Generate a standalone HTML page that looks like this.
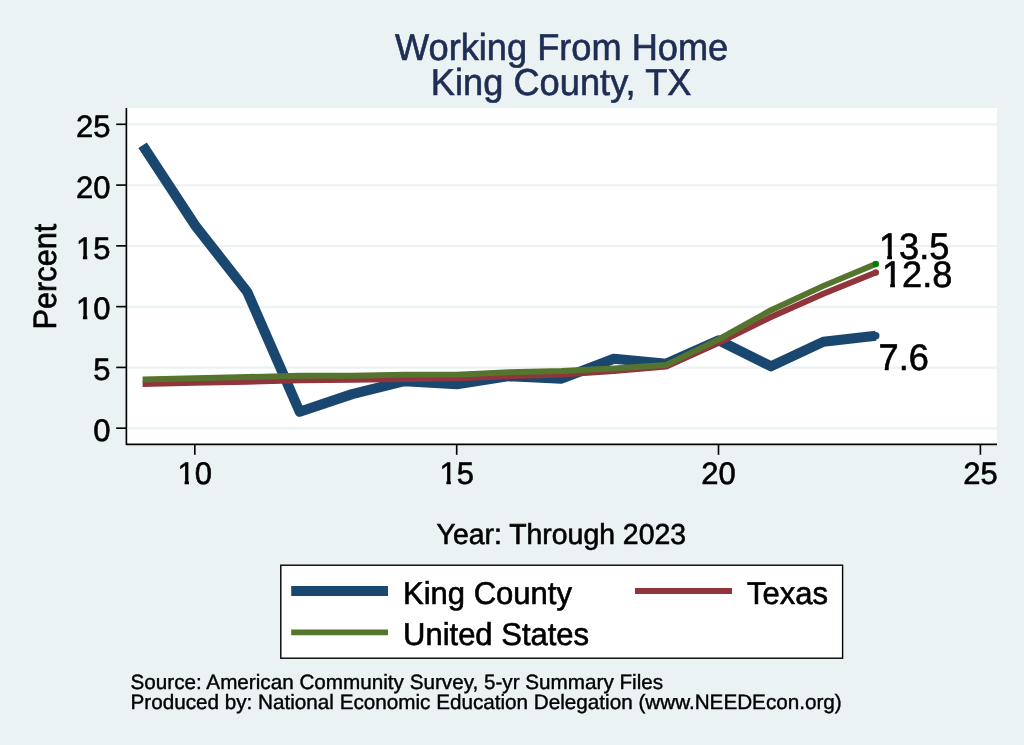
<!DOCTYPE html>
<html lang="en"><head><meta charset="utf-8"><title>Working From Home - King County, TX</title>
<style>
html,body{margin:0;padding:0;background:#EAF2F3;}
body{width:1024px;height:745px;overflow:hidden;}
svg{display:block;}
text{font-family:"Liberation Sans",sans-serif;text-rendering:geometricPrecision;fill:#000;stroke:#000;stroke-width:0.6px;}
.tk{font-size:31px;}
.ax{font-size:28.4px;}
.yt{font-size:30.7px;}
.ti{font-size:36.2px;fill:#1E2D53;stroke:#1E2D53;}
.lg{font-size:31px;}
.nt{font-size:20.68px;stroke-width:0.4px;}
.dl{font-size:36.2px;}
</style></head><body>
<svg width="1024" height="745" viewBox="0 0 1024 745">
<defs><clipPath id="one-tk"><polygon points="-3,-31.00 124.00,-31.00 124.00,9.30 16.73,9.30 16.73,-3.72 11.34,-3.72 11.34,9.30 7.00,9.30 7.00,-3.72 -3,-3.72"/></clipPath><clipPath id="one-dl"><polygon points="-3,-36.20 144.80,-36.20 144.80,10.86 19.37,10.86 19.37,-4.10 13.10,-4.10 13.10,10.86 8.30,10.86 8.30,-4.10 -3,-4.10"/></clipPath></defs>
<rect x="0" y="0" width="1024" height="745" fill="#EAF2F3"/>
<rect x="127" y="108" width="870" height="336" fill="#fff"/>

<g stroke="#EAF2F3" stroke-width="2.2">
<line x1="128.2" x2="997" y1="428.35" y2="428.35"/>
<line x1="128.2" x2="997" y1="367.57" y2="367.57"/>
<line x1="128.2" x2="997" y1="306.79" y2="306.79"/>
<line x1="128.2" x2="997" y1="246.01" y2="246.01"/>
<line x1="128.2" x2="997" y1="185.23" y2="185.23"/>
<line x1="128.2" x2="997" y1="124.45" y2="124.45"/>
</g>
<g fill="none" stroke-linejoin="round">
<polyline points="142.6,145.2 194.9,225.1 247.3,292.0 299.7,411.7 352.1,394.1 404.4,381.2 456.8,384.3 509.2,376.1 561.5,378.6 613.9,358.8 666.3,363.7 718.6,340.3 771.0,366.3 823.4,341.8 875.8,335.7" stroke="#1A476F" stroke-width="10.1"/>
<polyline points="142.6,384.0 194.9,382.9 247.3,381.7 299.7,380.4 352.1,379.7 404.4,379.0 456.8,378.3 509.2,376.4 561.5,374.6 613.9,371.0 666.3,366.6 718.6,342.8 771.0,317.0 823.4,293.8 875.8,272.5" stroke="#90353B" stroke-width="5.9"/>
<polyline points="142.6,379.5 194.9,378.3 247.3,377.0 299.7,375.8 352.1,375.8 404.4,374.6 456.8,374.6 509.2,372.2 561.5,371.0 613.9,368.5 666.3,364.9 718.6,339.4 771.0,310.2 823.4,285.9 875.8,264.0" stroke="#55752F" stroke-width="5.9"/>
</g>
<circle cx="875.8" cy="335.7" r="3.7" fill="#1A476F"/>
<circle cx="875.8" cy="272.5" r="3.2" fill="#90353B"/>
<circle cx="875.8" cy="264.0" r="3.2" fill="#008000"/>
<g stroke="#000" stroke-width="1.65" fill="none" stroke-linejoin="round">
<polyline points="126.4,108 126.4,444.4 997,444.4"/>
<line x1="116.2" x2="126" y1="428.20" y2="428.20"/>
<line x1="116.2" x2="126" y1="367.42" y2="367.42"/>
<line x1="116.2" x2="126" y1="306.64" y2="306.64"/>
<line x1="116.2" x2="126" y1="245.86" y2="245.86"/>
<line x1="116.2" x2="126" y1="185.08" y2="185.08"/>
<line x1="116.2" x2="126" y1="124.30" y2="124.30"/>
<line x1="194.8" x2="194.8" y1="444.4" y2="454.8"/>
<line x1="456.7" x2="456.7" y1="444.4" y2="454.8"/>
<line x1="718.5" x2="718.5" y1="444.4" y2="454.8"/>
<line x1="980.4" x2="980.4" y1="444.4" y2="454.8"/>
</g>
<text class="tk" transform="translate(93.16 441.20) scale(1 1.0)">0</text>
<text class="tk" transform="translate(93.16 380.42) scale(1 1.0)">5</text>
<text class="tk" transform="translate(75.92 318.74) scale(1 1.0)" clip-path="url(#one-tk)">10</text>
<text class="tk" transform="translate(75.92 258.86) scale(1 1.0)" clip-path="url(#one-tk)">15</text>
<text class="tk" transform="translate(75.92 198.08) scale(1 1.0)">20</text>
<text class="tk" transform="translate(75.92 137.30) scale(1 1.0)">25</text>
<text class="tk" transform="translate(177.61 484.40) scale(1 1.0)" clip-path="url(#one-tk)">10</text>
<text class="tk" transform="translate(439.46 484.40) scale(1 1.0)" clip-path="url(#one-tk)">15</text>
<text class="tk" transform="translate(701.31 484.40) scale(1 1.0)">20</text>
<text class="tk" transform="translate(963.16 484.40) scale(1 1.0)">25</text>
<text class="ti" transform="translate(561.60 59.70) scale(1 1.035)" text-anchor="middle">Working From Home</text>
<text style="letter-spacing:0.04px" class="ti" transform="translate(561.10 95.30) scale(1 1.035)" text-anchor="middle">King County, TX</text>
<text class="ax" transform="translate(561.30 544.00) scale(1 1.015)" text-anchor="middle">Year: Through 2023</text>
<text class="yt" transform="translate(55.60 276.55) rotate(-90) scale(1 1.055)" text-anchor="middle">Percent</text>
<text class="dl" transform="translate(878.90 258.70) scale(1 1.02)" clip-path="url(#one-dl)">13.5</text>
<text class="dl" transform="translate(881.90 287.00) scale(1 1.02)" clip-path="url(#one-dl)">12.8</text>
<text class="dl" transform="translate(878.60 369.75) scale(1 1.02)">7.6</text>
<rect x="280.8" y="565.2" width="561.8" height="93" fill="#fff" stroke="#000" stroke-width="1.4"/>
<line x1="291.2" x2="388" y1="591" y2="591" stroke="#1A476F" stroke-width="10.1"/>
<line x1="635" x2="732" y1="591" y2="591" stroke="#90353B" stroke-width="5.9"/>
<line x1="291.2" x2="388" y1="632.35" y2="632.35" stroke="#55752F" stroke-width="5.9"/>
<text class="lg" transform="translate(403.00 603.70) scale(1 1.02)">King County</text>
<text class="lg" transform="translate(747.00 603.70) scale(1 1.02)">Texas</text>
<text class="lg" transform="translate(403.00 644.50) scale(1 1.02)">United States</text>
<text class="nt" transform="translate(130.50 688.80) scale(1 1.0)">Source: American Community Survey, 5-yr Summary Files</text>
<text class="nt" transform="translate(130.50 708.80) scale(1 1.0)">Produced by: National Economic Education Delegation (www.NEEDEcon.org)</text>
</svg>
</body></html>
